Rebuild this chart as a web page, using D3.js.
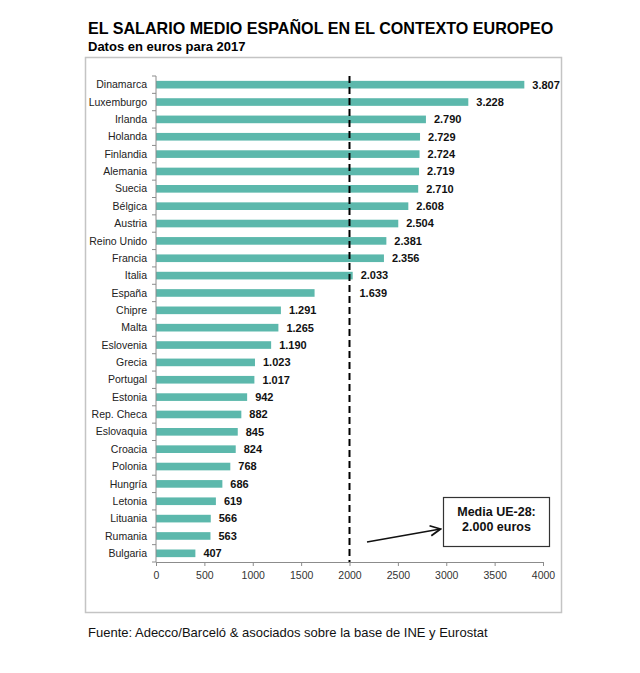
<!DOCTYPE html>
<html>
<head>
<meta charset="utf-8">
<script src="https://cdn.jsdelivr.net/npm/d3@7"></script>
<style>
  body { margin: 0; background: #fff; }
  svg { display: block; font-family: "Liberation Sans", Arial, sans-serif; }
</style>
</head>
<body>
<div id="chart"></div>
<script>
// Salario medio por país, euros 2017
const countries = [
  "Dinamarca", "Luxemburgo", "Irlanda", "Holanda", "Finlandia", "Alemania",
  "Suecia", "Bélgica", "Austria", "Reino Unido", "Francia", "Italia",
  "España", "Chipre", "Malta", "Eslovenia", "Grecia", "Portugal", "Estonia",
  "Rep. Checa", "Eslovaquia", "Croacia", "Polonia", "Hungría", "Letonia",
  "Lituania", "Rumania", "Bulgaria"
];
const salaries = [
  3807, 3228, 2790, 2729, 2724, 2719, 2710, 2608, 2504, 2381, 2356, 2033,
  1639, 1291, 1265, 1190, 1023, 1017, 942, 882, 845, 824, 768, 686, 619,
  566, 563, 407
];
const xTicks = [0, 500, 1000, 1500, 2000, 2500, 3000, 3500, 4000];
const euMean = 2000;
const meanLabel = ["Media UE-28:", "2.000 euros"];

const title = "EL SALARIO MEDIO ESPAÑOL EN EL CONTEXTO EUROPEO";
const subtitle = "Datos en euros para 2017";
const source = "Fuente: Adecco/Barceló & asociados sobre la base de INE y Eurostat";

const width = 640;
const height = 673;
const plot = { left: 156, right: 543, top: 76, bottom: 562 };

const esFormat = d3.formatLocale({
  decimal: ",", thousands: ".", grouping: [3], currency: ["", " €"]
}).format(",d");

const data = countries.map((c, i) => ({ country: c, value: salaries[i] }));

const svg = d3.select("#chart")
  .append("svg")
  .attr("width", width)
  .attr("height", height);

// titles
svg.append("text")
  .attr("x", 88).attr("y", 34)
  .attr("font-size", 16.1).attr("font-weight", "bold").attr("fill", "#000")
  .text(title);

svg.append("text")
  .attr("x", 88).attr("y", 51)
  .attr("font-size", 13).attr("font-weight", "bold").attr("fill", "#000")
  .text(subtitle);

// frame around the chart
svg.append("rect")
  .attr("x", 85.5).attr("y", 57.5)
  .attr("width", 476).attr("height", 555)
  .attr("fill", "none").attr("stroke", "#c4c4c4").attr("stroke-width", 1.5);

const xScale = d3.scaleLinear()
  .domain([0, 4000])
  .range([plot.left, plot.right]);

const pad = 0.56;
const yScale = d3.scaleBand()
  .domain(countries)
  .range([plot.top, plot.bottom])
  .paddingInner(pad)
  .paddingOuter(pad / 2);

// bars
svg.append("g")
  .selectAll("rect")
  .data(data)
  .join("rect")
  .attr("x", xScale(0))
  .attr("y", (d) => yScale(d.country))
  .attr("width", (d) => xScale(d.value) - xScale(0))
  .attr("height", yScale.bandwidth())
  .attr("fill", "#5cb8ac");

// x axis
const xAxis = svg.append("g")
  .attr("transform", `translate(0, ${plot.bottom})`)
  .call(d3.axisBottom(xScale).tickValues(xTicks).tickSize(4).tickPadding(6).tickFormat(d3.format("d")));
xAxis.select(".domain").attr("stroke", "#8c8c8c");
xAxis.selectAll(".tick line").attr("stroke", "#8c8c8c");
xAxis.selectAll(".tick text")
  .attr("font-size", 10.5).attr("fill", "#333")
  .attr("font-family", "'Liberation Sans', Arial, sans-serif");

// y axis: line plus ticks on category boundaries
const step = yScale.step();
const yAxis = svg.append("g");
yAxis.append("line")
  .attr("x1", plot.left).attr("x2", plot.left)
  .attr("y1", plot.top).attr("y2", plot.bottom)
  .attr("stroke", "#8c8c8c");
yAxis.selectAll("line.tk")
  .data(d3.range(countries.length + 1))
  .join("line")
  .attr("class", "tk")
  .attr("x1", plot.left - 4).attr("x2", plot.left)
  .attr("y1", (i) => plot.top + i * step)
  .attr("y2", (i) => plot.top + i * step)
  .attr("stroke", "#8c8c8c");
yAxis.selectAll("text")
  .data(countries)
  .join("text")
  .attr("x", plot.left - 9)
  .attr("y", (d) => yScale(d) + yScale.bandwidth() / 2)
  .attr("dy", "0.35em")
  .attr("text-anchor", "end")
  .attr("font-size", 10.5)
  .attr("fill", "#222")
  .text((d) => d);

// EU-28 mean dashed line
const meanX = xScale(euMean);
svg.append("line")
  .attr("x1", meanX).attr("x2", meanX)
  .attr("y1", plot.top).attr("y2", plot.bottom)
  .attr("stroke", "#000").attr("stroke-width", 2)
  .attr("stroke-dasharray", "7,4");

// value labels; pushed past the dashed line when they would cross it
const valueLabels = svg.append("g")
  .selectAll("text")
  .data(data)
  .join("text")
  .attr("y", (d) => yScale(d.country) + yScale.bandwidth() / 2)
  .attr("dy", "0.35em")
  .attr("font-size", 11)
  .attr("font-weight", "bold")
  .attr("fill", "#111")
  .text((d) => esFormat(d.value));

valueLabels.each(function (d) {
  const w = this.getComputedTextLength();
  let x = xScale(d.value) + 8;
  if (x < meanX + 4 && x + w > meanX - 4) x = meanX + 10;
  d3.select(this).attr("x", x);
});

// annotation box
const box = { x: 443.5, y: 497.5, w: 106, h: 49 };
svg.append("rect")
  .attr("x", box.x).attr("y", box.y)
  .attr("width", box.w).attr("height", box.h)
  .attr("fill", "#fff").attr("stroke", "#333").attr("stroke-width", 1.2);
svg.append("g")
  .selectAll("text")
  .data(meanLabel)
  .join("text")
  .attr("x", box.x + box.w / 2)
  .attr("y", (d, i) => box.y + 18 + i * 15)
  .attr("text-anchor", "middle")
  .attr("font-size", 12.5)
  .attr("font-weight", "bold")
  .attr("fill", "#111")
  .text((d) => d);

// arrow pointing to the box
svg.append("defs").append("marker")
  .attr("id", "arrow")
  .attr("viewBox", "0 0 10 10")
  .attr("refX", 9).attr("refY", 5)
  .attr("markerWidth", 8).attr("markerHeight", 8)
  .attr("orient", "auto")
  .append("path")
  .attr("d", "M1,1 L9,5 L1,9")
  .attr("fill", "none").attr("stroke", "#111").attr("stroke-width", 1.4);

svg.append("line")
  .attr("x1", 367).attr("y1", 542)
  .attr("x2", box.x - 3).attr("y2", 529)
  .attr("stroke", "#111").attr("stroke-width", 1.6)
  .attr("marker-end", "url(#arrow)");

// source
svg.append("text")
  .attr("x", 88).attr("y", 637)
  .attr("font-size", 13).attr("fill", "#111")
  .text(source);
</script>
</body>
</html>
